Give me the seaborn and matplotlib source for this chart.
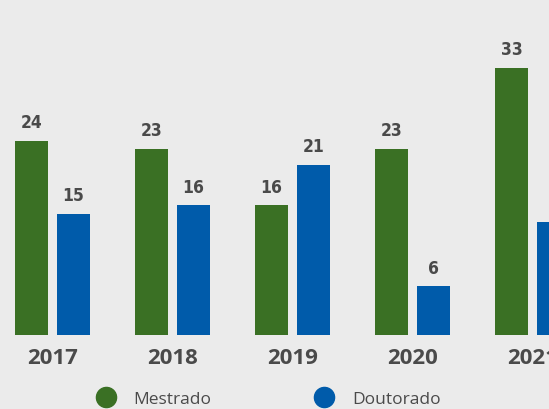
import matplotlib
matplotlib.use("Agg")
import matplotlib.pyplot as plt
from matplotlib.lines import Line2D
import seaborn as sns
import pandas as pd

years = ["2017", "2018", "2019", "2020", "2021"]
mestrado = [24, 23, 16, 23, 33]
doutorado = [15, 16, 21, 6, 14]
series = ["Mestrado", "Doutorado"]

green = "#3a7024"
blue = "#005baa"
bg = "#ebebeb"
txt = "#4a4a4a"

df = pd.DataFrame({
    "Ano": years * 2,
    "Valor": mestrado + doutorado,
    "Tipo": [series[0]] * len(years) + [series[1]] * len(years),
})

sns.set_theme(style="white")
plt.rcParams["font.family"] = ["Open Sans", "DejaVu Sans"]

fig = plt.figure(figsize=(5.49, 4.10), dpi=100, facecolor=bg)
ax = fig.add_axes([0, 74 / 410, 1, 336 / 410])
ax.set_facecolor(bg)

sns.barplot(data=df, x="Ano", y="Valor", hue="Tipo", order=years,
            hue_order=series, palette=[green, blue], width=0.7, gap=0.214,
            saturation=1, legend=False, linewidth=0, ax=ax)

for cont in ax.containers:
    ax.bar_label(cont, padding=7, fontsize=12.5, fontweight="bold", color=txt,
                 family="DejaVu Sans", fontstretch="condensed")

ax.set_xlim(-52.5 / 120, (549 - 52.5) / 120)
ax.set_ylim(0, 336 / 8.1)
for s in ax.spines.values():
    s.set_visible(False)
ax.set_yticks([])
ax.set_xlabel("")
ax.set_ylabel("")
ax.tick_params(axis="x", length=0, pad=9)
for lab in ax.get_xticklabels():
    lab.set_fontweight("bold")
    lab.set_fontsize(16)
    lab.set_color(txt)

handles = [Line2D([], [], marker="o", linestyle="", markersize=14.5,
                  markerfacecolor=c, markeredgecolor=c) for c in (green, blue)]
fig.legend(handles, series, loc="center", bbox_to_anchor=(264.5 / 549, 1 - 400 / 410),
           ncol=2, frameon=False, fontsize=12.5, labelcolor=txt,
           handletextpad=0.6, columnspacing=5.5, borderaxespad=0)

fig.savefig("out.png", dpi=100, facecolor=bg)
